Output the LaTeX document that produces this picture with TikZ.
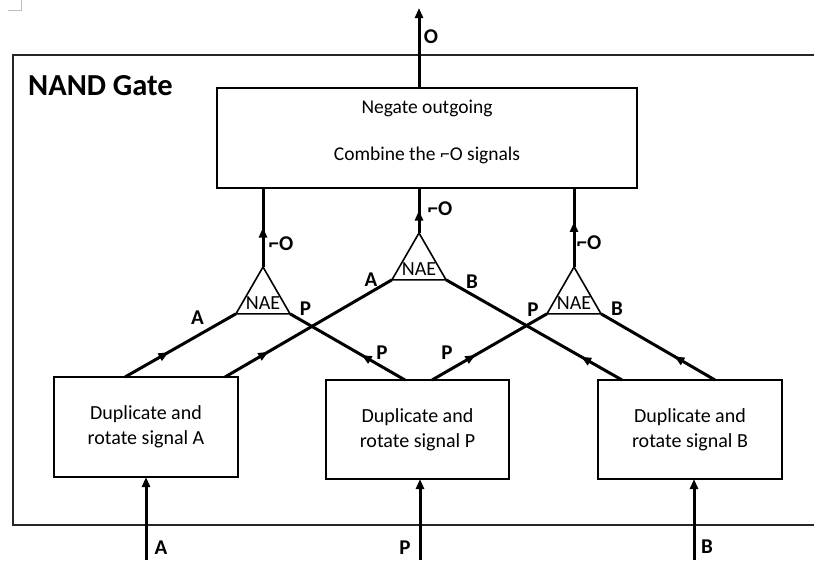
\documentclass[tikz,border=0pt]{standalone}
\usepackage{fontspec}
\setmainfont{Carlito}
\usetikzlibrary{arrows.meta,decorations.markings,shapes.geometric,calc}
\tikzset{
  tipA/.tip={Triangle[length=10pt,width=8pt]},
  box/.style={draw, line width=1.7pt, inner sep=0pt, outer sep=0pt, align=center, font=\fontsize{20}{25}\selectfont},
  tri/.style={draw, line width=1.6pt, regular polygon, regular polygon sides=3, minimum size=62.4pt, inner sep=0pt, outer sep=0pt},
  naetxt/.style={inner sep=0pt, font=\fontsize{20}{24}\selectfont},
  lbl/.style={inner sep=0pt, font=\fontsize{21}{24}\selectfont\bfseries},
  sig/.style={line width=3pt},
  midarrow/.style={postaction={decorate}, decoration={markings, mark=at position #1 with {\arrow{tipA}}}},
}
\begin{document}
\begin{tikzpicture}[x=1pt,y=-1pt]
\useasboundingbox (0,0) rectangle (814,560);
% crop mark
\draw[black!25, line width=0.8pt] (8,10) -- (21,10) -- (21,0);
% frame
\draw[black!85, line width=2pt] (814,55) -- (13,55) -- (13,524.5) -- (814,524.5);
\node[anchor=base west, inner sep=0pt, font=\fontsize{30.5}{34}\selectfont\bfseries] (title) at (28,95) {NAND Gate};

% top box
\node[box, minimum width=420pt, minimum height=100pt] (neg) at (427,138) {};
\node[naetxt, align=center, font=\fontsize{19.5}{24}\selectfont] (negtxt) at (427,132.2) {Negate outgoing\\[23pt]Combine the \reflectbox{¬}O signals};

% bottom boxes
\node[box, minimum width=184pt, minimum height=100pt] (boxA) at (146,427) {Duplicate and\\rotate signal A};
\node[box, minimum width=183pt, minimum height=99pt] (boxP) at (417.5,429.5) {Duplicate and\\rotate signal P};
\node[box, minimum width=184pt, minimum height=99pt] (boxB) at (690,429.5) {Duplicate and\\rotate signal B};

% triangles
\node[tri] (triL) at (263,298.2) {};
\node[tri] (triM) at (419,264.2) {};
\node[tri] (triR) at (574,298.2) {};
\node[naetxt] (nL) at ([yshift=10.3pt]triL.south) {NAE};
\node[naetxt] (nM) at ([yshift=10.3pt]triM.south) {NAE};
\node[naetxt] (nR) at ([yshift=10.3pt]triR.south) {NAE};

% attachment points
\coordinate (a1) at ([xshift=71pt]boxA.north west);
\coordinate (a2) at ([xshift=171pt]boxA.north west);
\coordinate (p1) at ([xshift=79pt]boxP.north west);
\coordinate (p2) at ([xshift=106pt]boxP.north west);
\coordinate (b1) at ([xshift=24pt]boxB.north west);
\coordinate (b2) at ([xshift=117pt]boxB.north west);
\coordinate (out) at (419,8);
\coordinate (inA) at (146,560);
\coordinate (inP) at (420,560);
\coordinate (inB) at (694,560);

% diagonal connectors
\draw[sig, midarrow=50pt] (a1) -- (triL.corner 2);
\draw[sig, midarrow=50pt] (a2) -- (triM.corner 2);
\draw[sig, midarrow=50pt] (p1) -- (triL.corner 3);
\draw[sig, midarrow=50pt] (p2) -- (triR.corner 2);
\draw[sig, midarrow=47pt] (b1) -- (triM.corner 3);
\draw[sig, midarrow=47pt] (b2) -- (triR.corner 3);

% NAE outputs
\draw[sig, midarrow=0.5] (triL.corner 1) -- (triL.corner 1 |- neg.south);
\draw[sig, midarrow=0.5] (triM.corner 1) -- (triM.corner 1 |- neg.south);
\draw[sig, midarrow=0.57] (triR.corner 1) -- (triR.corner 1 |- neg.south);

% output and inputs
\draw[sig, -{tipA}] (out |- neg.north) -- (out);
\draw[sig, -{tipA}] (inA) -- (inA |- boxA.south);
\draw[sig, -{tipA}] (inP) -- (inP |- boxP.south);
\draw[sig, -{tipA}] (inB) -- (inB |- boxB.south);

% labels
\node[lbl] (lO) at (431,37) {O};
\node[lbl] (lnL) at (281,244) {\reflectbox{¬}O};
\node[lbl] (lnM) at (440,209) {\reflectbox{¬}O};
\node[lbl] (lnR) at (589,243) {\reflectbox{¬}O};
\node[lbl] (lA1) at (197.5,317.5) {A};
\node[lbl] (lP1) at (305.5,309) {P};
\node[lbl] (lA2) at (371,280) {A};
\node[lbl] (lB2) at (472,282) {B};
\node[lbl] (lP3) at (533,310) {P};
\node[lbl] (lB3) at (617,309) {B};
\node[lbl] (lP4) at (382,352.5) {P};
\node[lbl] (lP5) at (447,352.5) {P};
\node[lbl] (lA0) at (161,548) {A};
\node[lbl] (lP0) at (405,548) {P};
\node[lbl] (lB0) at (707,547) {B};
\end{tikzpicture}
\end{document}
